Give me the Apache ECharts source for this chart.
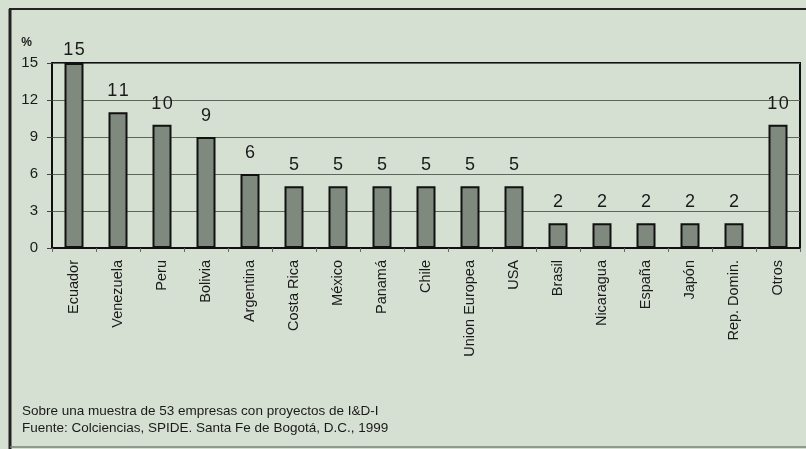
<!DOCTYPE html>
<html><head><meta charset="utf-8">
<script src="https://cdn.jsdelivr.net/npm/echarts@6/dist/echarts.min.js"></script>
<style>html,body{margin:0;padding:0;background:#d6e0d2;}#c{width:806px;height:449px;}</style>
</head><body><div id="c"></div>
<script>
const categories = ['Ecuador','Venezuela','Peru','Bolivia','Argentina','Costa Rica','México','Panamá','Chile','Union Europea','USA','Brasil','Nicaragua','España','Japón','Rep. Domin.','Otros'];
const values = [15,11,10,9,6,5,5,5,5,5,5,2,2,2,2,2,10];
const yTicks = [0,3,6,9,12,15];
const notes = ['Sobre una muestra de 53 empresas con proyectos de I&D-I','Fuente: Colciencias, SPIDE. Santa Fe de Bogotá, D.C., 1999'];

const chart = echarts.init(document.getElementById('c'));
const ff = '"Liberation Sans", Arial, sans-serif';
const yMax = yTicks[yTicks.length - 1];
chart.setOption({
  backgroundColor: '#d6e0d2',
  animation: false,
  grid: {left: 52, right: 6, top: 63, bottom: 201, show: true, borderColor: '#111', borderWidth: 2, backgroundColor: 'transparent'},
  xAxis: {
    type: 'category', data: categories,
    axisLine: {lineStyle: {color: '#111', width: 2}},
    axisTick: {show: true, length: 4, lineStyle: {color: '#666'}},
    axisLabel: {rotate: 90, margin: 12, fontFamily: ff, fontSize: 14.5, color: '#1a1a1a'}
  },
  yAxis: {
    type: 'value', min: 0, max: yMax, interval: 3,
    name: '%', nameLocation: 'end', nameGap: 14,
    nameTextStyle: {fontFamily: ff, fontSize: 12, fontWeight: 'bold', color: '#1a1a1a', align: 'right', padding: [0, 20, 0, 0]},
    axisLine: {show: true, lineStyle: {color: '#111', width: 1.5}},
    axisTick: {show: true, length: 5, inside: false, lineStyle: {color: '#444'}},
    axisLabel: {fontFamily: ff, fontSize: 15, color: '#1a1a1a', margin: 14,
      formatter: v => yTicks.includes(v) ? String(v) : ''},
    splitLine: {show: true, lineStyle: {color: '#5f655d', width: 1}}
  },
  series: [{
    type: 'bar', barWidth: 19,
    data: values.map(v => v >= yMax ? {value: v, label: {distance: 4}} : v),
    itemStyle: {color: '#7f897d', borderColor: '#111', borderWidth: 2},
    label: {show: true, position: 'top', distance: 12, fontFamily: ff, fontSize: 18, color: '#1a1a1a',
      formatter: p => String(p.value).split('').join('\u200a')}
  }],
  graphic: [
    {type: 'line', shape: {x1: 9, y1: 9, x2: 806, y2: 9}, style: {stroke: '#222', lineWidth: 2}},
    {type: 'line', shape: {x1: 10, y1: 9, x2: 10, y2: 449}, style: {stroke: '#222', lineWidth: 3}},
    {type: 'line', shape: {x1: 10, y1: 447, x2: 806, y2: 447}, style: {stroke: '#7a8278', lineWidth: 1.5}},
    {type: 'text', left: 22, top: 404, style: {text: notes[0], font: '13.5px ' + ff, fill: '#1a1a1a'}},
    {type: 'text', left: 22, top: 421, style: {text: notes[1], font: '13.5px ' + ff, fill: '#1a1a1a'}}
  ]
});
</script></body></html>
